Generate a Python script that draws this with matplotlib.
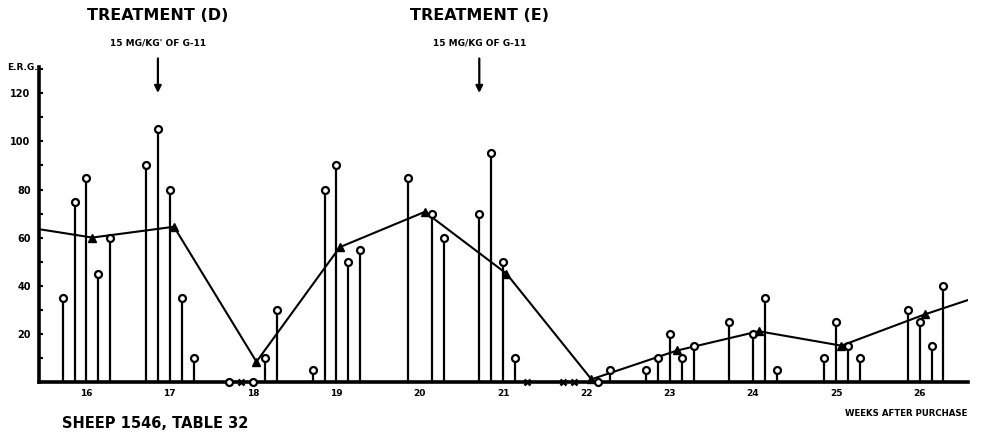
import matplotlib.pyplot as plt

# daily readings, day 0 = start of week 16
days = [-2, -1, 0, 1, 2, 5, 6, 7, 8, 9, 12, 14, 15, 16, 19, 20, 21, 22, 23,
        27, 29, 30, 33, 34, 35, 36, 43, 44, 47, 48, 49, 50, 51, 54, 56, 57, 58,
        62, 63, 64, 65, 69, 70, 71, 72]
erg = [35, 75, 85, 45, 60, 90, 105, 80, 35, 10, 0, 0, 10, 30, 5, 80, 90, 50, 55,
       85, 70, 60, 70, 95, 50, 10, 0, 5, 5, 10, 20, 10, 15, 25, 20, 35, 5,
       10, 25, 15, 10, 30, 25, 15, 40]
# days with no reading (x)
nil_days = [13, 37, 40, 41]

# weekly means (triangles)
mean_weeks = [16.07, 17.05, 18.04, 19.04, 20.06, 21.04, 22.06, 23.09, 24.07, 25.06, 26.06]
mean_erg = [60, 64.5, 8.3, 56, 70.7, 45, 1, 13, 21, 15, 28]
# line runs out past first and last mean
line_start = (15.43, 63.5)
line_end = (26.58, 34)

week_ticks = [16, 17, 18, 19, 20, 21, 22, 23, 24, 25, 26]
erg_ticks = [20, 40, 60, 80, 100, 120]

treat_weeks = [16 + 6 / 7, 16 + 33 / 7]
treat_titles = ['TREATMENT (D)', 'TREATMENT (E)']
treat_doses = ["15 MG/KG' OF G-11", '15 MG/KG OF G-11']

W, H = 981, 437
fig = plt.figure(figsize=(W / 100, H / 100), dpi=100)
x0, x1 = 39, 968
y0, y1 = 381.7, 67
ax = fig.add_axes([x0 / W, (H - y0) / H, (x1 - x0) / W, (y0 - y1) / H])
ax.set_xlim(15.43, 26.58)
ax.set_ylim(0, 131)

wk = [16 + d / 7 for d in days]
ax.vlines(wk, 0, erg, color='black', lw=1.6)
ax.plot(wk, erg, 'o', ms=5, mfc='white', mec='black', mew=1.6, clip_on=False, zorder=4)
ax.plot([16 + d / 7 for d in nil_days], [0] * len(nil_days), 'x', ms=4.5, mew=1.8,
        color='black', clip_on=False, zorder=4)

lx = [line_start[0]] + mean_weeks + [line_end[0]]
ly = [line_start[1]] + mean_erg + [line_end[1]]
ax.plot(lx, ly, '-', color='black', lw=1.5, zorder=3)
ax.plot(mean_weeks, mean_erg, '^', ms=5.5, color='black', clip_on=False, zorder=5)

for s in ['top', 'right']:
    ax.spines[s].set_visible(False)
ax.spines['left'].set_linewidth(2.6)
ax.spines['bottom'].set_linewidth(2.6)

ax.set_xticks(week_ticks)
ax.set_xticklabels([str(w) for w in week_ticks], fontsize=6.5, fontweight='bold')
ax.tick_params(axis='x', length=0, pad=5)
ax.set_yticks(erg_ticks)
ax.set_yticklabels([str(v) for v in erg_ticks], fontsize=7, fontweight='bold')
ax.set_yticks(range(10, 131, 10), minor=True)
ax.tick_params(axis='y', direction='in', length=3, width=1.5, pad=6)
ax.tick_params(axis='y', which='minor', direction='in', length=3, width=1.5)

fig.text(22 / W, 1 - 67 / H, 'E.R.G.', fontsize=6.5, fontweight='bold', ha='center', va='center')

for tw, tt, td in zip(treat_weeks, treat_titles, treat_doses):
    xf = (x0 + (tw - 15.43) / (26.58 - 15.43) * (x1 - x0)) / W
    fig.text(xf, 1 - 16 / H, tt, fontsize=11.5, fontweight='bold', ha='center', va='center')
    fig.text(xf, 1 - 43 / H, td, fontsize=6.5, fontweight='bold', ha='center', va='center')
    ax.annotate('', xy=(tw, (y0 - 96) / 2.4), xytext=(tw, (y0 - 56) / 2.4),
                arrowprops=dict(arrowstyle='-|>', lw=1.6, color='black', mutation_scale=10),
                annotation_clip=False)

fig.text(62 / W, 1 - 423 / H, 'SHEEP 1546, TABLE 32', fontsize=10.5, fontweight='bold',
         ha='left', va='center')
fig.text(967 / W, 1 - 414 / H, 'WEEKS AFTER PURCHASE', fontsize=6.2, fontweight='bold',
         ha='right', va='center')

fig.savefig('out.png', dpi=100)
